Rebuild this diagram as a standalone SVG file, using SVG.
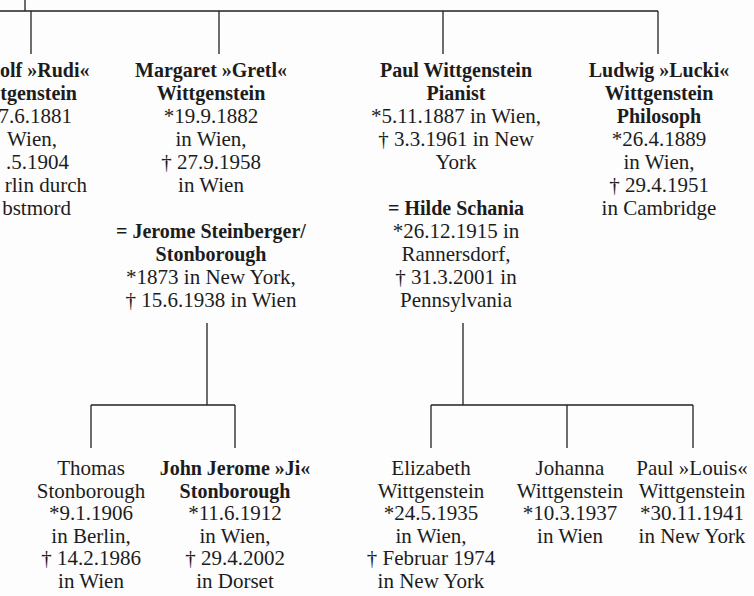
<svg xmlns="http://www.w3.org/2000/svg" width="754" height="596" viewBox="0 0 754 596">
<style>
  text { font-family: "Liberation Serif", "Times New Roman", serif; font-size: 21px; fill: #1c1c1c; text-anchor: middle; }
  .b { font-weight: bold; font-size: 20px; }
  .e { text-anchor: end; }
  .ln { stroke: #222; stroke-width: 1.3; fill: none; }
</style>
<rect width="754" height="596" fill="#fdfdfd"/>
<g id="connectors" class="ln">
  <path d="M25 0 V11 M0 11 H658 M31 11 V54 M219 11 V54 M443 11 V54 M658 11 V54"/>
  <path d="M207 323 V405 M91 405 H235 M91 405 V448 M235 405 V448"/>
  <path d="M463 323 V405 M431 405 H693 M431 405 V448 M567 405 V448 M693 405 V448"/>
</g>
<g id="rudolf">
  <text class="b e" x="89.5" y="77">olf »Rudi«</text>
  <text class="b e" x="77" y="100">tgenstein</text>
  <text class="e" x="72" y="123">7.6.1881</text>
  <text class="e" x="57" y="146">Wien,</text>
  <text class="e" x="69" y="169">.5.1904</text>
  <text class="e" x="87" y="192">rlin durch</text>
  <text class="e" x="71" y="215">bstmord</text>
</g>
<g id="margaret">
  <text class="b" x="211" y="77">Margaret »Gretl«</text>
  <text class="b" x="211" y="100">Wittgenstein</text>
  <text x="211" y="123">*19.9.1882</text>
  <text x="211" y="146">in Wien,</text>
  <text x="211" y="169">† 27.9.1958</text>
  <text x="211" y="192">in Wien</text>
</g>
<g id="jerome">
  <text class="b" x="211" y="238">= Jerome Steinberger/</text>
  <text class="b" x="211" y="261">Stonborough</text>
  <text x="211" y="284">*1873 in New York,</text>
  <text x="211" y="307">† 15.6.1938 in Wien</text>
</g>
<g id="paul">
  <text class="b" x="456" y="77">Paul Wittgenstein</text>
  <text class="b" x="456" y="100">Pianist</text>
  <text x="456" y="123">*5.11.1887 in Wien,</text>
  <text x="456" y="146">† 3.3.1961 in New</text>
  <text x="456" y="169">York</text>
</g>
<g id="hilde">
  <text class="b" x="456" y="215">= Hilde Schania</text>
  <text x="456" y="238">*26.12.1915 in</text>
  <text x="456" y="261">Rannersdorf,</text>
  <text x="456" y="284">† 31.3.2001 in</text>
  <text x="456" y="307">Pennsylvania</text>
</g>
<g id="ludwig">
  <text class="b" x="659" y="77">Ludwig »Lucki«</text>
  <text class="b" x="659" y="100">Wittgenstein</text>
  <text class="b" x="659" y="123">Philosoph</text>
  <text x="659" y="146">*26.4.1889</text>
  <text x="659" y="169">in Wien,</text>
  <text x="659" y="192">† 29.4.1951</text>
  <text x="659" y="215">in Cambridge</text>
</g>
<g id="thomas">
  <text x="91" y="475">Thomas</text>
  <text x="91" y="497.5">Stonborough</text>
  <text x="91" y="520">*9.1.1906</text>
  <text x="91" y="542.5">in Berlin,</text>
  <text x="91" y="565">† 14.2.1986</text>
  <text x="91" y="587.5">in Wien</text>
</g>
<g id="john">
  <text class="b" x="235" y="475">John Jerome »Ji«</text>
  <text class="b" x="235" y="497.5">Stonborough</text>
  <text x="235" y="520">*11.6.1912</text>
  <text x="235" y="542.5">in Wien,</text>
  <text x="235" y="565">† 29.4.2002</text>
  <text x="235" y="587.5">in Dorset</text>
</g>
<g id="elizabeth">
  <text x="431" y="475">Elizabeth</text>
  <text x="431" y="497.5">Wittgenstein</text>
  <text x="431" y="520">*24.5.1935</text>
  <text x="431" y="542.5">in Wien,</text>
  <text x="431" y="565">† Februar 1974</text>
  <text x="431" y="587.5">in New York</text>
</g>
<g id="johanna">
  <text x="570" y="475">Johanna</text>
  <text x="570" y="497.5">Wittgenstein</text>
  <text x="570" y="520">*10.3.1937</text>
  <text x="570" y="542.5">in Wien</text>
</g>
<g id="paul-louis">
  <text x="692" y="475">Paul »Louis«</text>
  <text x="692" y="497.5">Wittgenstein</text>
  <text x="692" y="520">*30.11.1941</text>
  <text x="692" y="542.5">in New York</text>
</g>
</svg>
